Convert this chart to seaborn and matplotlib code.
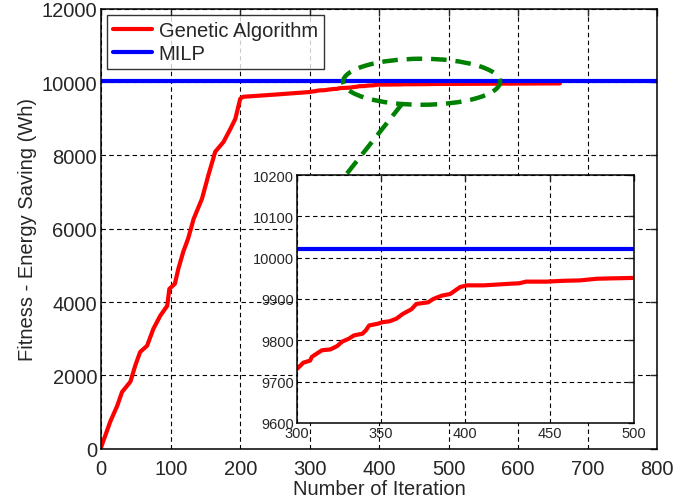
import seaborn as sns
import pandas as pd
import matplotlib.pyplot as plt
from matplotlib.patches import Ellipse

# Genetic algorithm fitness over iterations
ga_iter = [0, 13, 23, 30, 42, 49, 56, 66, 75, 85, 95, 98, 106, 111, 118, 125, 133, 145,
           154, 164, 176, 186, 193, 200, 204, 250,
           300, 304, 308, 309, 315, 320, 324, 327, 331, 334, 339, 341, 343, 348, 351, 355,
           359, 363, 368, 371, 378, 381, 386, 391, 397, 401, 411, 419, 427, 432, 436, 448,
           458, 468, 478, 488, 500, 580, 660]
ga_fit = [50, 740, 1170, 1550, 1830, 2270, 2640, 2810, 3270, 3630, 3900, 4360, 4500, 4910,
          5370, 5730, 6270, 6820, 7450, 8100, 8370, 8730, 9000, 9545, 9600, 9660,
          9730, 9746, 9751, 9760, 9776, 9778, 9786, 9797, 9804, 9812, 9816, 9824, 9836,
          9840, 9844, 9846, 9852, 9864, 9875, 9888, 9892, 9900, 9908, 9912, 9929, 9933,
          9933, 9935, 9937, 9938, 9942, 9942, 9944, 9945, 9949, 9950, 9951, 9958, 9965]

# MILP optimum (constant)
milp_iter = [0, 800]
milp_fit = [10020, 10020]

ga = pd.DataFrame({'iter': ga_iter, 'fit': ga_fit})
milp = pd.DataFrame({'iter': milp_iter, 'fit': milp_fit})
ga_zoom = ga[(ga['iter'] >= 300) & (ga['iter'] <= 500)]
milp_zoom = pd.DataFrame({'iter': [300, 500], 'fit': milp_fit})

sns.set_style('white')
plt.rcParams['font.family'] = ['Liberation Sans', 'DejaVu Sans']
plt.rcParams['xtick.direction'] = 'in'
plt.rcParams['ytick.direction'] = 'in'

grid_kw = dict(color='black', linestyle=(0, (4, 3)), linewidth=0.8)

fig = plt.figure(figsize=(6.98, 5.02), dpi=100)
ax = fig.add_axes([0.145, 0.104, 0.7966, 0.8765])

sns.lineplot(data=ga, x='iter', y='fit', ax=ax, color='#ff0000', lw=3,
             estimator=None, label='Genetic Algorithm')
sns.lineplot(data=milp, x='iter', y='fit', ax=ax, color='#0000ff', lw=3,
             estimator=None, label='MILP')

ax.set_xlim(0, 800)
ax.set_ylim(0, 12000)
ax.set_xticks(range(0, 801, 100))
ax.set_yticks(range(0, 12001, 2000))
ax.grid(True, **grid_kw)
ax.tick_params(labelsize=14.5, length=5, width=1, top=True, right=True)
ax.tick_params(axis='x', pad=7)
ax.tick_params(axis='y', pad=3)
ax.set_xlabel('Number of Iteration', fontsize=14.5, labelpad=1)
ax.set_ylabel('Fitness - Energy Saving (Wh)', fontsize=14.5, labelpad=3)
for s in ax.spines.values():
    s.set_color('black')
    s.set_linewidth(1.1)

leg = ax.legend(loc='upper left', fontsize=14.5, frameon=True, fancybox=False,
                edgecolor='black', handlelength=1.9, handletextpad=0.35,
                borderaxespad=0.3, borderpad=0.3, labelspacing=0.2)
leg.get_frame().set_linewidth(1.0)

# zoom marker: dashed ellipse and connector
ax.add_patch(Ellipse((461, 10010), 226, 1255, fill=False, edgecolor='#008000',
                     lw=3.2, linestyle=(0, (3.5, 2)), zorder=5))
ax.plot([433, 351], [9410, 7445], color='#008000', lw=3.2,
        linestyle=(0, (3.5, 2)), zorder=5)

# inset
axi = fig.add_axes([0.425, 0.1554, 0.4832, 0.494])
sns.lineplot(data=ga_zoom, x='iter', y='fit', ax=axi, color='#ff0000', lw=3,
             estimator=None, legend=False)
sns.lineplot(data=milp_zoom, x='iter', y='fit', ax=axi, color='#0000ff', lw=3,
             estimator=None, legend=False)
axi.set_xlim(300, 500)
axi.set_ylim(9600, 10200)
axi.set_xticks(range(300, 501, 50))
axi.set_yticks(range(9600, 10201, 100))
axi.grid(True, **grid_kw)
axi.tick_params(labelsize=10.5, length=4, width=1, top=True, right=True, pad=2)
axi.set_xlabel('')
axi.set_ylabel('')
for s in axi.spines.values():
    s.set_color('black')
    s.set_linewidth(1.1)

fig.savefig('out.png', dpi=100)
